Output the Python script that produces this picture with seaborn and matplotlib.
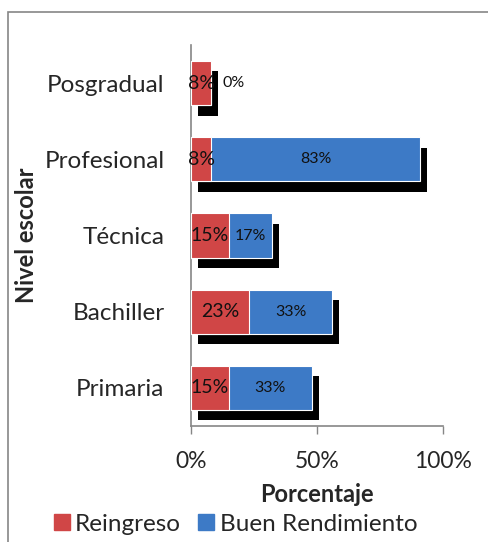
import matplotlib
matplotlib.use("Agg")
import matplotlib.pyplot as plt
import matplotlib.patheffects as pe
from matplotlib.lines import Line2D
from matplotlib.patches import Rectangle
import seaborn as sns
import pandas as pd

categories = ["Posgradual", "Profesional", "Técnica", "Bachiller", "Primaria"]
reingreso = [8, 8, 15, 23, 15]
buen_rendimiento = [0, 83, 17, 33, 33]
xticks = [0, 50, 100]
xtick_labels = ["0%", "50%", "100%"]

RED = "#D04646"
BLUE = "#3D7AC6"
FONT = "Lato"

sns.set_theme(style="white")
plt.rcParams["font.family"] = [FONT, "DejaVu Sans"]

df = pd.DataFrame({
    "cat": categories,
    "r": reingreso,
    "b": buen_rendimiento,
})
df["total"] = df["r"] + df["b"]

fig = plt.figure(figsize=(4.88, 5.42), dpi=100)
ax = fig.add_axes([191/488, 1-426/542, (443-191)/488, (426-45)/542])

shadow = [pe.SimplePatchShadow(offset=(5, -7.5), shadow_rgbFace="black", alpha=1.0)]
bw = 0.58

# shadows
for col in ["total", "r"]:
    sns.barplot(data=df, x=col, y="cat", order=categories, orient="h", ax=ax,
                color="black", width=bw, saturation=1, zorder=1)
for p in ax.patches:
    p.set_path_effects(shadow)
# bars
sns.barplot(data=df, x="total", y="cat", order=categories, orient="h", ax=ax,
            color=BLUE, width=bw, saturation=1, edgecolor="white", linewidth=0.8, zorder=3)
sns.barplot(data=df, x="r", y="cat", order=categories, orient="h", ax=ax,
            color=RED, width=bw, saturation=1, edgecolor="white", linewidth=0.8, zorder=4)

# labels
for i, (r, b) in enumerate(zip(reingreso, buen_rendimiento)):
    ax.text(r / 2, i, f"{r}%", ha="center", va="center", fontsize=14, color="#111111", zorder=6)
    if b > 0:
        ax.text(r + b / 2, i, f"{b}%", ha="center", va="center", fontsize=11.5, color="#111111", zorder=6)
    else:
        ax.annotate(f"{b}%", (r, i), xytext=(16, 0), textcoords="offset points",
                    ha="center", va="center", fontsize=11.5, color="#111111", zorder=6)

ax.set_xlim(0, 100)
ax.set_ylim(4.5, -0.5)
ax.set_xticks(xticks)
ax.set_xticklabels(xtick_labels)
ax.tick_params(axis="x", length=6, width=1, color="#868686", direction="out", pad=12, labelsize=16.5, bottom=True)
ax.tick_params(axis="y", length=0, pad=19, labelsize=17.5)
for s in ["top", "right"]:
    ax.spines[s].set_visible(False)
for s in ["left", "bottom"]:
    ax.spines[s].set_color("#868686")
    ax.spines[s].set_linewidth(1.2)
ax.set_xlabel("")
ax.set_ylabel("")
fig.text(317/488, 1-494/542, "Porcentaje", ha="center", va="center",
         fontsize=17, fontweight="bold")
fig.text(27/488, 1-235/542, "Nivel escolar", rotation=90, ha="center", va="center",
         fontsize=17, fontweight="bold")

handles = [Line2D([], [], marker="s", linestyle="", markersize=11, markerfacecolor=RED, markeredgecolor=RED),
           Line2D([], [], marker="s", linestyle="", markersize=11, markerfacecolor=BLUE, markeredgecolor=BLUE)]
fig.legend(handles, ["Reingreso", "Buen Rendimiento"], loc="center", bbox_to_anchor=(234/488, 1-524/542),
           ncol=2, frameon=False, fontsize=17.5, handletextpad=0.1, columnspacing=0.6, handlelength=0.9,
           borderpad=0, borderaxespad=0)

fig.add_artist(Rectangle((8/488, -0.1), 1.2, 1 - 12/542 + 0.1, transform=fig.transFigure,
                         fill=False, edgecolor="#868686", linewidth=1.2))

fig.savefig("out.png", dpi=100)
